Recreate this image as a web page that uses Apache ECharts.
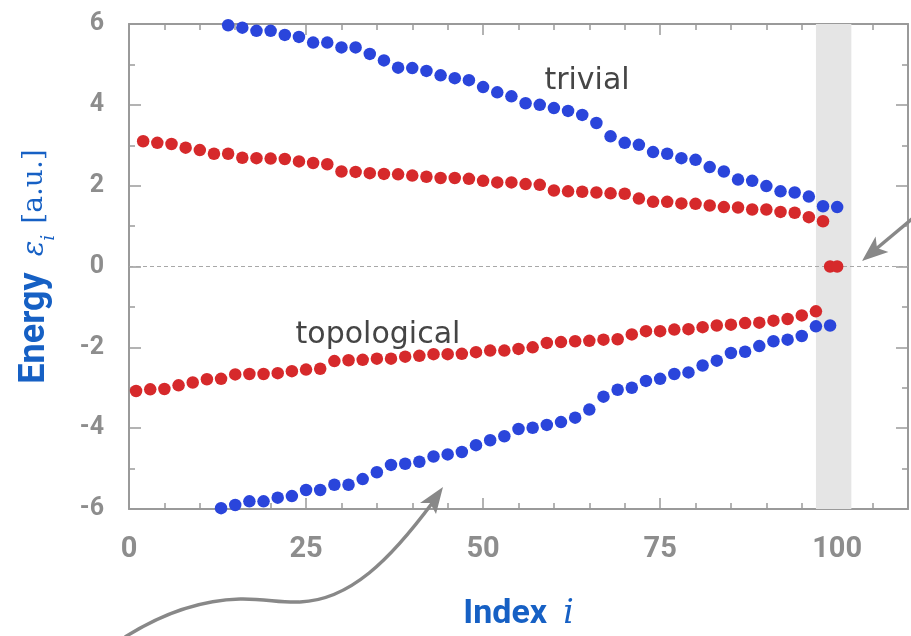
<!DOCTYPE html>
<html>
<head>
<meta charset="utf-8">
<script src="https://cdn.jsdelivr.net/npm/echarts@6/dist/echarts.min.js"></script>
<style>html,body{margin:0;padding:0;background:#fff;}#c{width:911px;height:636px;}</style>
</head>
<body>
<div id="c"></div>
<script>
// ---- data ----
const blueUpperX = [14,16,18,20,22,24,26,28,30,32,34,36,38,40,42,44,46,48,50,52,54,56,58,60,62,64,66,68,70,72,74,76,78,80,82,84,86,88,90,92,94,96,98,100];
const blueUpperY = [5.97,5.91,5.83,5.83,5.73,5.68,5.54,5.54,5.42,5.42,5.26,5.10,4.92,4.91,4.84,4.73,4.66,4.61,4.44,4.31,4.21,4.04,4.00,3.92,3.85,3.75,3.55,3.22,3.06,3.01,2.83,2.79,2.68,2.64,2.46,2.35,2.15,2.12,1.99,1.86,1.83,1.73,1.49,1.47];
const blueLowerX = [13,15,17,19,21,23,25,27,29,31,33,35,37,39,41,43,45,47,49,51,53,55,57,59,61,63,65,67,69,71,73,75,77,79,81,83,85,87,89,91,93,95,97,99];
const blueLowerY = [-5.98,-5.90,-5.81,-5.81,-5.72,-5.68,-5.53,-5.53,-5.40,-5.40,-5.26,-5.09,-4.91,-4.88,-4.83,-4.70,-4.65,-4.59,-4.42,-4.30,-4.20,-4.02,-3.99,-3.92,-3.85,-3.74,-3.54,-3.22,-3.05,-3.00,-2.83,-2.78,-2.66,-2.62,-2.45,-2.33,-2.14,-2.11,-1.97,-1.85,-1.81,-1.72,-1.48,-1.46];
const redUpperX = [2,4,6,8,10,12,14,16,18,20,22,24,26,28,30,32,34,36,38,40,42,44,46,48,50,52,54,56,58,60,62,64,66,68,70,72,74,76,78,80,82,84,86,88,90,92,94,96,98];
const redUpperY = [3.10,3.06,3.03,2.94,2.88,2.79,2.79,2.69,2.68,2.67,2.66,2.60,2.56,2.53,2.35,2.34,2.31,2.29,2.28,2.25,2.22,2.19,2.19,2.17,2.12,2.08,2.08,2.04,2.02,1.88,1.86,1.85,1.83,1.81,1.80,1.68,1.60,1.60,1.56,1.55,1.51,1.47,1.46,1.41,1.41,1.35,1.33,1.22,1.12];
const redLowerX = [1,3,5,7,9,11,13,15,17,19,21,23,25,27,29,31,33,35,37,39,41,43,45,47,49,51,53,55,57,59,61,63,65,67,69,71,73,75,77,79,81,83,85,87,89,91,93,95,97];
const redLowerY = [-3.08,-3.04,-3.03,-2.94,-2.87,-2.79,-2.78,-2.67,-2.66,-2.66,-2.64,-2.59,-2.55,-2.53,-2.34,-2.32,-2.31,-2.28,-2.28,-2.23,-2.21,-2.17,-2.17,-2.16,-2.12,-2.08,-2.08,-2.04,-2.00,-1.89,-1.87,-1.85,-1.84,-1.81,-1.80,-1.68,-1.60,-1.60,-1.56,-1.55,-1.50,-1.46,-1.44,-1.40,-1.39,-1.34,-1.30,-1.21,-1.11];
const zeroModeX = [99,100];
const zeroModeY = [0,0];
const xTickLabels = [0,25,50,75,100];
const yTickLabels = [-6,-4,-2,0,2,4,6];
const highlightBand = [97,102];
const annotations = [{text:'trivial', x:587, y:81},{text:'topological', x:378, y:335}];

// ---- styles ----
const BLUE = '#2a45db', RED = '#d6292b', AX = '#9a9a9a', LAB = '#8d8d8d', NAME = '#1660c4', ARR = '#888888';
const pts = (xs, ys) => xs.map((x, i) => [x, ys[i]]);

const chart = echarts.init(document.getElementById('c'), null, {renderer: 'canvas'});

function xAxisCfg(pos, labels) {
  return {
    type: 'value', position: pos, min: 0, max: 110, interval: 25,
    axisLine: {show: true, onZero: false, lineStyle: {color: AX, width: 2}},
    axisTick: {show: true, inside: true, length: 11, lineStyle: {color: AX, width: 1.5}},
    minorTick: {show: true, splitNumber: 5, length: 6, lineStyle: {color: AX, width: 1.5}},
    splitLine: {show: false},
    axisLabel: labels ? {
      show: true, margin: 26, fontFamily: 'Roboto', fontWeight: 'bold', fontSize: 29, color: LAB,
      formatter: v => (xTickLabels.indexOf(v) >= 0 ? String(v) : '')
    } : {show: false},
    name: labels ? '{b|Index}{g|}{m|i}' : '',
    nameLocation: 'middle', nameGap: 88,
    nameTextStyle: {
      rich: {
        b: {fontFamily: 'Roboto', fontWeight: 'bold', fontSize: 34, color: NAME},
        g: {width: 16},
        m: {fontFamily: 'DejaVu Serif', fontStyle: 'italic', fontSize: 33, color: NAME}
      }
    }
  };
}
function yAxisCfg(pos, labels) {
  return {
    type: 'value', position: pos, min: -6, max: 6, interval: 2,
    axisLine: {show: true, onZero: false, lineStyle: {color: AX, width: 2}},
    axisTick: {show: true, inside: true, length: 12, lineStyle: {color: AX, width: 1.5}},
    minorTick: {show: true, splitNumber: 2, length: 6, lineStyle: {color: AX, width: 1.5}},
    splitLine: {show: false},
    axisLabel: labels ? {
      show: true, margin: 25, fontFamily: 'Roboto', fontWeight: 'bold', fontSize: 25, color: LAB,
      formatter: v => (yTickLabels.indexOf(v) >= 0 ? String(v) : '')
    } : {show: false},
    name: labels ? '{b|Energy}{g|}{m|ε}{s|i}{h|}{r|[a.u.]}' : '',
    nameLocation: 'middle', nameGap: 76, nameRotate: 90,
    nameTextStyle: {
      rich: {
        b: {fontFamily: 'Roboto', fontWeight: 'bold', fontSize: 36, color: NAME},
        g: {width: 16},
        h: {width: 11},
        m: {fontFamily: 'DejaVu Serif', fontStyle: 'italic', fontSize: 29, color: NAME},
        s: {fontFamily: 'DejaVu Serif', fontStyle: 'italic', fontSize: 19, color: NAME, verticalAlign: 'bottom', padding: [0,0,-6,0]},
        r: {fontFamily: 'DejaVu Serif', fontSize: 28, color: NAME}
      }
    }
  };
}

const dot = (name, data, color) => ({
  name, type: 'scatter', xAxisIndex: 0, yAxisIndex: 0, data,
  symbol: 'circle', symbolSize: 12.5, itemStyle: {color, opacity: 1}, silent: true, z: 3
});

const arrowStyle = {fill: 'none', stroke: ARR, lineWidth: 3.5};
const option = {
  animation: false,
  backgroundColor: '#fff',
  grid: {left: 129, top: 24, width: 785, height: 494, containLabel: false},
  xAxis: [xAxisCfg('bottom', true), xAxisCfg('top', false)],
  yAxis: [yAxisCfg('left', true), yAxisCfg('right', false)],
  series: [
    Object.assign(dot('redUpper', pts(redUpperX, redUpperY), RED), {
      markArea: {silent: true, z: 1, itemStyle: {color: '#e5e5e5'},
        data: [[{xAxis: highlightBand[0]}, {xAxis: highlightBand[1]}]]},
      markLine: {silent: true, z: 1, symbol: ['none','none'], label: {show: false},
        lineStyle: {color: '#a8a8a8', type: [4, 3], width: 1},
        data: [{yAxis: 0}]}
    }),
    dot('redLower', pts(redLowerX, redLowerY), RED),
    dot('blueUpper', pts(blueUpperX, blueUpperY), BLUE),
    dot('blueLower', pts(blueLowerX, blueLowerY), BLUE),
    dot('zeroModes', pts(zeroModeX, zeroModeY), RED)
  ],
  graphic: [
    ...annotations.map(a => ({
      type: 'text', x: a.x, y: a.y, z: 10,
      style: {text: a.text, fill: '#454545', font: '30px "DejaVu Sans"', align: 'center', verticalAlign: 'middle'}
    })),
    {type: 'bezierCurve', z: 10, shape: {x1: 125, y1: 637, cpx1: 160, cpy1: 615, cpx2: 200, cpy2: 600, x2: 240, y2: 599}, style: arrowStyle},
    {type: 'bezierCurve', z: 10, shape: {x1: 240, y1: 599, cpx1: 265, cpy1: 598.5, cpx2: 280, cpy2: 603, x2: 300, y2: 602}, style: arrowStyle},
    {type: 'bezierCurve', z: 10, shape: {x1: 300, y1: 602, cpx1: 350, cpy1: 600, cpx2: 390, cpy2: 560, x2: 433, y2: 502}, style: arrowStyle},
    {type: 'polygon', z: 10, shape: {points: [[443,487],[420,503],[430,503],[436,514]]}, style: {fill: ARR}},
    {type: 'line', z: 10, shape: {x1: 913, y1: 218, x2: 876, y2: 249}, style: {stroke: ARR, lineWidth: 3.5}},
    {type: 'polygon', z: 10, shape: {points: [[862,261],[875.6,236.6],[877,248],[888.4,252]]}, style: {fill: ARR}}
  ]
};
chart.setOption(option);
</script>
</body>
</html>
